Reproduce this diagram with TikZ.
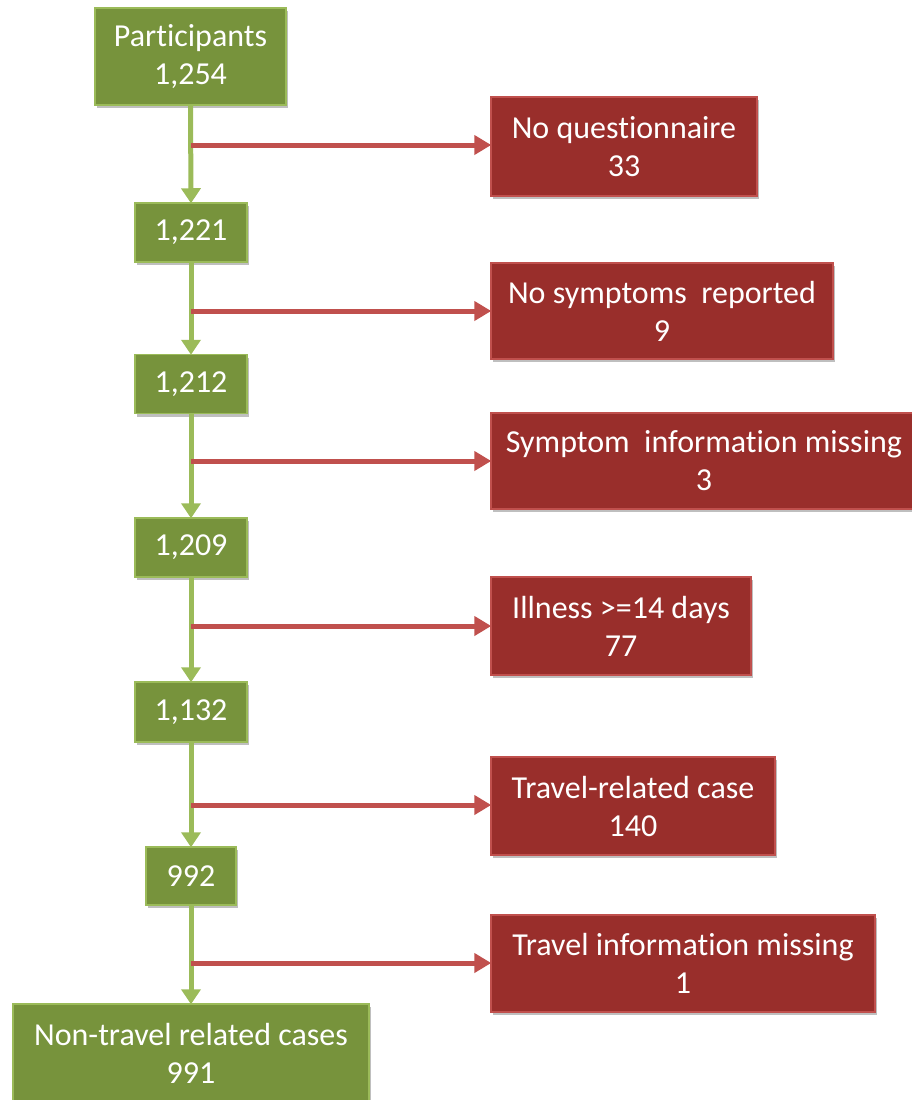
\documentclass[tikz,border=0pt]{standalone}
\usepackage{fontspec}
\setmainfont[Ligatures=NoCommon]{Carlito}
\usetikzlibrary{arrows.meta,shadows}
\definecolor{gfill}{HTML}{77933C}
\definecolor{gedge}{HTML}{9BBB59}
\definecolor{rfill}{HTML}{992E2B}
\definecolor{redge}{HTML}{C0504D}
\begin{document}
\begin{tikzpicture}[x=1pt,y=-1pt,
  box/.style={draw, line width=1.5pt, align=center, text=white, inner sep=0pt,
    font=\fontsize{32}{38}\selectfont,
    drop shadow={shadow xshift=2pt, shadow yshift=-3pt, fill=black, opacity=0.25}},
  gbox/.style={box, fill=gfill, draw=gedge},
  rbox/.style={box, fill=rfill, draw=redge},
  garrow/.style={draw=gedge, line width=5pt, -{Triangle[width=19pt,length=15pt]}, shorten >=-1pt},
  rarrow/.style={draw=redge, line width=5pt, -{Triangle[width=19pt,length=17pt]}, shorten >=-1pt}]
\useasboundingbox (0,0) rectangle (912,1100);

% main stream
\node[gbox, minimum width=191pt, minimum height=97pt] (p0) at (190.5,56.5) {Participants\\1,254};
\node[gbox, minimum width=112pt, minimum height=59pt] (p1) at (191,232.5) {1,221};
\node[gbox, minimum width=112pt, minimum height=59pt] (p2) at (191,384) {1,212};
\node[gbox, minimum width=112pt, minimum height=59pt] (p3) at (191,547.5) {1,209};
\node[gbox, minimum width=112pt, minimum height=60pt] (p4) at (191,712) {1,132};
\node[gbox, minimum width=90pt, minimum height=58pt] (p5) at (191,876) {992};
\node[gbox, minimum width=356pt, minimum height=98pt] (p6) at (191,1053) {Non-travel related cases\\991};

% exclusions
\node[rbox, minimum width=266pt, minimum height=99pt] (e1) at (624,146.5) {No questionnaire\\33};
\node[rbox, minimum width=342pt, minimum height=96pt] (e2) at (662,311) {No symptoms\ \ reported\\9};
\node[rbox, minimum width=426pt, minimum height=96pt] (e3) at (704,461) {Symptom\ \ information missing\\3};
\node[rbox, minimum width=260pt, minimum height=98pt] (e4) at (621,626) {Illness \texttt{}>=14 days\\77};
\node[rbox, minimum width=284pt, minimum height=98pt] (e5) at (633,806) {Travel-related case\\140};
\node[rbox, minimum width=384pt, minimum height=97pt] (e6) at (683,963.5) {Travel information missing\\1};

% branch points on the main line
\coordinate (b1) at (191,145);
\coordinate (b2) at (191,311);
\coordinate (b3) at (191,461);
\coordinate (b4) at (191,626);
\coordinate (b5) at (191,805);
\coordinate (b6) at (191,963);

\draw[garrow] (p0.south) -- (p1.north);
\draw[garrow] (p1.south) -- (p2.north);
\draw[garrow] (p2.south) -- (p3.north);
\draw[garrow] (p3.south) -- (p4.north);
\draw[garrow] (p4.south) -- (p5.north);
\draw[garrow] (p5.south) -- (p6.north);

\draw[rarrow] (b1) -- (b1 -| e1.west);
\draw[rarrow] (b2) -- (b2 -| e2.west);
\draw[rarrow] (b3) -- (b3 -| e3.west);
\draw[rarrow] (b4) -- (b4 -| e4.west);
\draw[rarrow] (b5) -- (b5 -| e5.west);
\draw[rarrow] (b6) -- (b6 -| e6.west);
\end{tikzpicture}
\end{document}
